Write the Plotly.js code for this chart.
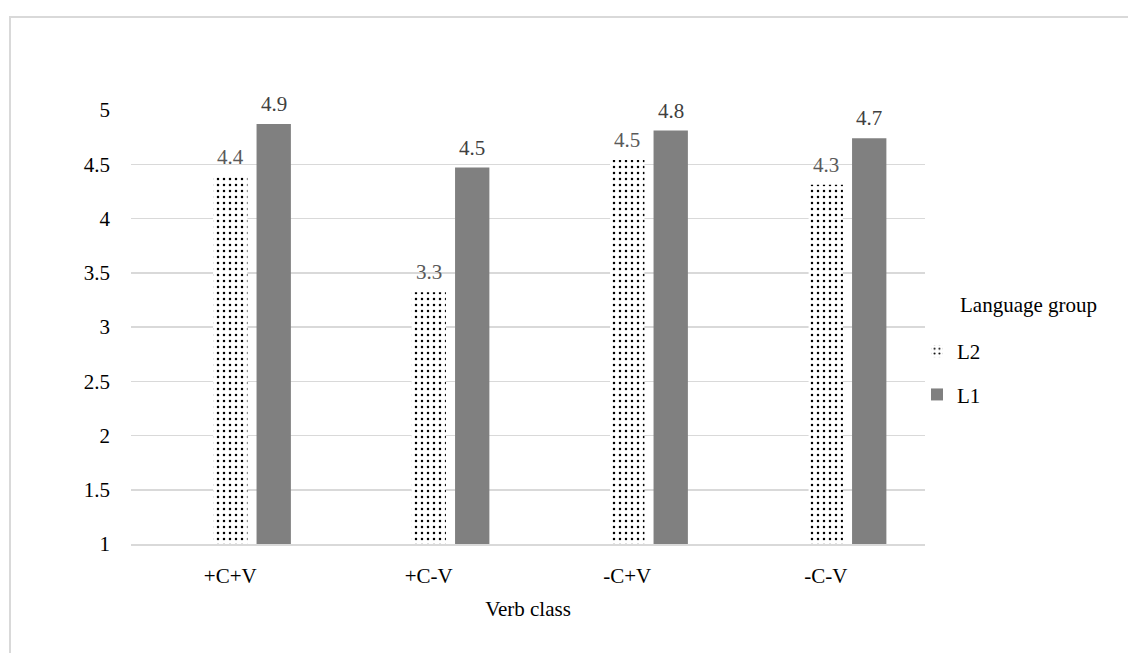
<!DOCTYPE html>
<html>
<head>
<meta charset="utf-8">
<script src="https://cdn.plot.ly/plotly-3.0.1.min.js"></script>
<style>
  html, body { margin: 0; padding: 0; background: #fff; }
  #wrap { position: relative; width: 1128px; height: 653px; overflow: hidden; }
  #frame { position: absolute; left: 9px; top: 16px; width: 1200px; height: 700px;
           border-left: 2px solid #d9d9d9; border-top: 2px solid #d9d9d9; pointer-events: none; }
  #chart { position: absolute; left: 0; top: 0; width: 1128px; height: 653px; }
</style>
</head>
<body>
<div id="wrap">
  <div id="chart"></div>
  <div id="frame"></div>
</div>
<script>
const categories = ['+C+V', '+C-V', '-C+V', '-C-V'];
const seriesNames = ['L2', 'L1'];
const l2Values = [4.38, 3.32, 4.54, 4.31];
const l1Values = [4.87, 4.47, 4.81, 4.74];
const emptySeries = [null, null, null, null];
const yTicks = [1, 1.5, 2, 2.5, 3, 3.5, 4, 4.5, 5];

const FONT = 'Liberation Serif';
const FS = 21;
const fmt = v => v.toFixed(1);

const W = 1128, H = 653;
const M = { l: 131, r: 203, t: 110, b: 109 };
const BARGAP = 0.343, BARGROUPGAP = 0.21;
const nSlots = 3; // hidden first series + L2 + L1
const slotPx = ((W - M.l - M.r) / categories.length) * (1 - BARGAP) / nSlots;

const traces = [
  {
    type: 'bar', x: categories, y: emptySeries, name: '', showlegend: false,
    hoverinfo: 'skip', marker: { color: 'rgba(0,0,0,0)' }
  },
  {
    type: 'bar', x: categories, y: l2Values, name: seriesNames[0],
    legendgroup: 'a',
    marker: {
      color: '#ffffff',
      line: { width: 0 },
      pattern: { shape: '.', fgcolor: '#000000', bgcolor: '#ffffff', size: 6, solidity: 0.14, fillmode: 'replace' }
    }
  },
  {
    type: 'bar', x: categories, y: l1Values, name: seriesNames[1],
    legendgroup: 'b',
    marker: { color: '#808080', line: { width: 0 } }
  }
];

const annotations = [];
categories.forEach((c, i) => {
  annotations.push({
    x: c, y: l2Values[i], xref: 'x', yref: 'y', text: fmt(l2Values[i]),
    showarrow: false, yanchor: 'bottom', xanchor: 'center', xshift: 0, yshift: 6,
    font: { family: FONT, size: FS, color: '#595959' }
  });
  annotations.push({
    x: c, y: l1Values[i], xref: 'x', yref: 'y', text: fmt(l1Values[i]),
    showarrow: false, yanchor: 'bottom', xanchor: 'center', xshift: slotPx, yshift: 6,
    font: { family: FONT, size: FS, color: '#404040' }
  });
});
// legend title
annotations.push({
  x: (958 - M.l) / (W - M.l - M.r), y: (M.t + (H - M.t - M.b) - 305) / (H - M.t - M.b),
  xref: 'paper', yref: 'paper', xanchor: 'left', yanchor: 'middle',
  text: 'Language group', showarrow: false,
  font: { family: FONT, size: FS, color: '#000000' }
});

const layout = {
  width: W, height: H,
  margin: M,
  paper_bgcolor: '#ffffff', plot_bgcolor: '#ffffff',
  font: { family: FONT, size: FS, color: '#000000' },
  barmode: 'group', bargap: BARGAP, bargroupgap: BARGROUPGAP,
  xaxis: {
    type: 'category', showgrid: false, showline: true, linecolor: '#d9d9d9', linewidth: 1.5,
    ticks: '', ticklabelstandoff: 12, zeroline: false, fixedrange: true,
    tickfont: { family: FONT, size: FS, color: '#000000' },
    title: { text: 'Verb class', font: { family: FONT, size: FS, color: '#000000' }, standoff: 14 }
  },
  yaxis: {
    range: [1, 5], tickvals: yTicks, ticktext: yTicks.map(String),
    showgrid: true, gridcolor: '#d9d9d9', gridwidth: 1.5, showline: false, zeroline: false,
    ticks: '', ticklabelstandoff: 20, fixedrange: true,
    tickfont: { family: FONT, size: FS, color: '#000000' }
  },
  showlegend: true,
  legend: {
    x: (917 - M.l) / (W - M.l - M.r), xanchor: 'left',
    y: (544 - 331) / 434, yanchor: 'top',
    traceorder: 'grouped', tracegroupgap: 13,
    font: { family: FONT, size: FS, color: '#000000' },
    bgcolor: 'rgba(0,0,0,0)', borderwidth: 0
  },
  annotations: annotations
};

Plotly.newPlot('chart', traces, layout, { displayModeBar: false, staticPlot: true });
</script>
</body>
</html>
